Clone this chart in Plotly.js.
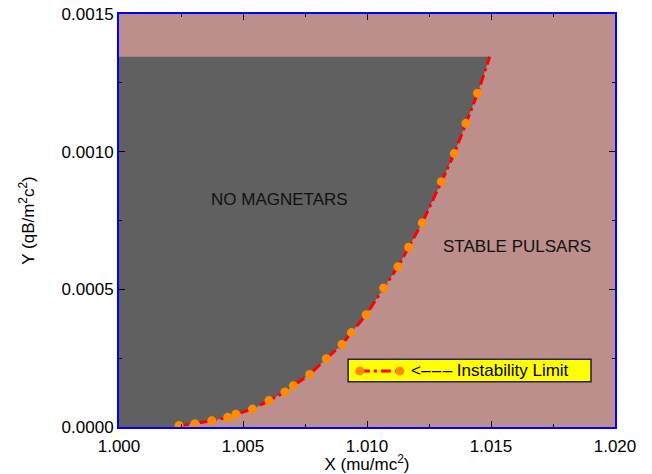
<!DOCTYPE html>
<html>
<head>
<meta charset="utf-8">
<script src="https://cdn.plot.ly/plotly-3.0.1.min.js"></script>
<style>html,body{margin:0;padding:0;background:#fff;}#chart{width:652px;height:474px;}</style>
</head>
<body>
<div id="chart"></div>
<script>
// Instability limit points (markers)
var limitX = [1.00242, 1.00306, 1.00374, 1.00438, 1.00471, 1.00538, 1.00605, 1.00669, 1.00703, 1.00769, 1.00836, 1.00899, 1.00937, 1.00997, 1.01067, 1.01125, 1.01168, 1.01223, 1.01300, 1.01352, 1.01399, 1.01446];
var limitY = [0.000005, 0.000012, 0.000023, 0.000035, 0.000046, 0.000065, 0.000096, 0.000127, 0.000150, 0.000191, 0.000248, 0.000300, 0.000343, 0.000408, 0.000505, 0.000582, 0.000653, 0.000742, 0.000891, 0.000993, 0.001103, 0.001212];
// end point of the limit curve (top of the "no magnetars" region)
var curveEndX = 1.01495;
var curveEndY = 0.001345;
var regionLeftX = 1.000;
var xTicks = [1.000, 1.005, 1.010, 1.015, 1.020];
var yTicks = [0.0000, 0.0005, 0.0010, 0.0015];
var legendLabel = "<\u2013\u200A\u2013\u200A\u2013 Instability Limit";

var curveX = limitX.concat([curveEndX]);
var curveY = limitY.concat([curveEndY]);

// polygon of the NO MAGNETARS region
var fillX = [regionLeftX, regionLeftX].concat(curveX.slice().reverse()).concat([limitX[0], regionLeftX]);
var fillY = [0, curveEndY].concat(curveY.slice().reverse()).concat([0, 0]);

var font = "Liberation Sans, Arial, sans-serif";

var traces = [
  {x: fillX, y: fillY, type: 'scatter', mode: 'lines', fill: 'toself',
   fillcolor: 'rgb(96,96,96)', line: {width: 0, color: 'rgb(96,96,96)'}, hoverinfo: 'skip', showlegend: false},
  {x: curveX, y: curveY, type: 'scatter', mode: 'lines', line: {color: '#FF0000', width: 3, dash: '10px,4px,3px,4px'},
   showlegend: false},
  {x: limitX, y: limitY, type: 'scatter', mode: 'markers', marker: {color: 'rgb(255,140,0)', size: 9},
   showlegend: false}
];

var axisCommon = {
  showgrid: false, zeroline: false, showline: true, linecolor: '#0000FF', linewidth: 2,
  mirror: 'ticks', ticks: 'inside', ticklen: 6, tickwidth: 1, tickcolor: '#000',
  tickfont: {family: font, size: 17, color: '#000'}
};

var layout = {
  width: 652, height: 474,
  margin: {l: 119, r: 37, t: 14, b: 47},
  paper_bgcolor: '#ffffff', plot_bgcolor: 'rgb(188,142,140)',
  font: {family: font, size: 17, color: '#000'},
  showlegend: false,
  xaxis: Object.assign({}, axisCommon, {
    range: [1.000, 1.020], tickvals: xTicks, tickformat: '.3f', ticklabelstandoff: 3,
    minor: {dtick: 0.0025, ticks: 'inside', ticklen: 3, tickcolor: '#000', showgrid: false},
    title: {text: 'X (mu/mc<sup>2</sup>)', font: {family: font, size: 17}, standoff: 2}
  }),
  yaxis: Object.assign({}, axisCommon, {
    range: [0, 0.0015], tickvals: yTicks, tickformat: '.4f',
    minor: {dtick: 0.00025, ticks: 'inside', ticklen: 3, tickcolor: '#000', showgrid: false},
    title: {text: 'Y (qB/m<sup>2</sup>c<sup>2</sup>)', font: {family: font, size: 17}, standoff: 23}
  }),
  annotations: [
    {x: 1.00646, y: 0.000828, xref: 'x', yref: 'y', text: 'NO MAGNETARS', showarrow: false,
     font: {family: font, size: 17, color: '#111'}},
    {x: 1.01606, y: 0.000654, xref: 'x', yref: 'y', text: 'STABLE PULSARS', showarrow: false,
     font: {family: font, size: 17, color: '#111'}},
    {x: 0.584, y: 0.1356, xref: 'paper', yref: 'paper', text: legendLabel, showarrow: false,
     xanchor: 'left', yanchor: 'middle', font: {family: font, size: 17, color: '#000'}}
  ],
  shapes: [
    {type: 'rect', xref: 'paper', yref: 'paper', x0: 0.462, x1: 0.9516, y0: 0.1097, y1: 0.164,
     fillcolor: '#FFFF00', line: {color: '#222', width: 1.5}},
    {type: 'line', xref: 'paper', yref: 'paper', x0: 0.4855, x1: 0.5662, y0: 0.1356, y1: 0.1356,
     line: {color: '#FF0000', width: 3, dash: '10px,4px,3px,4px'}},
    {type: 'circle', xref: 'paper', yref: 'paper', xsizemode: 'pixel', ysizemode: 'pixel',
     xanchor: 0.4855, yanchor: 0.1356, x0: -4.5, x1: 4.5, y0: -4.5, y1: 4.5,
     fillcolor: 'rgb(255,140,0)', line: {width: 0}},
    {type: 'circle', xref: 'paper', yref: 'paper', xsizemode: 'pixel', ysizemode: 'pixel',
     xanchor: 0.5662, yanchor: 0.1356, x0: -4.5, x1: 4.5, y0: -4.5, y1: 4.5,
     fillcolor: 'rgb(255,140,0)', line: {width: 0}}
  ]
};

Plotly.newPlot('chart', traces, layout, {displayModeBar: false, staticPlot: true});
</script>
</body>
</html>
